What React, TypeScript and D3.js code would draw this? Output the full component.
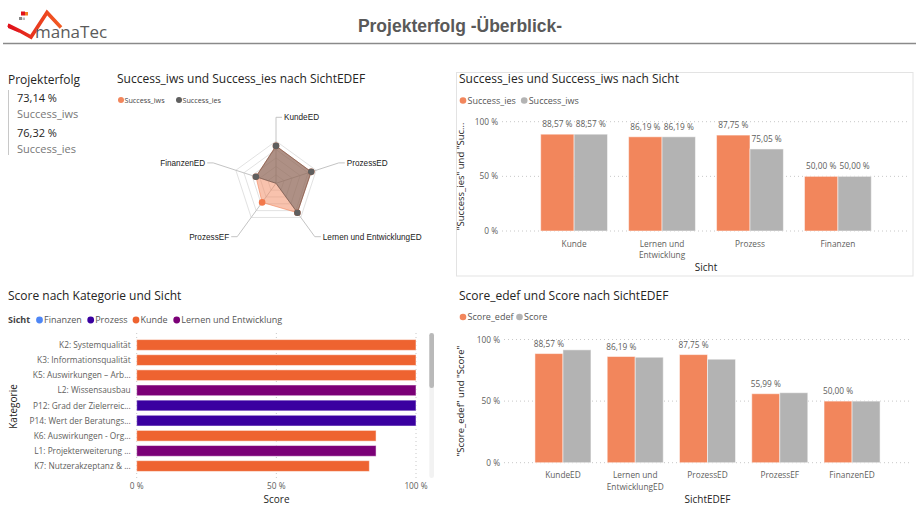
import React from 'react';
import * as d3 from 'd3';

// ---------- DATA ----------
const kpiValues = [73.14, 76.32];
const kpiLabels = ['Success_iws', 'Success_ies'];

const radarAxes = ['KundeED', 'ProzessED', 'Lernen und EntwicklungED', 'ProzessEF', 'FinanzenED'];
const radarIws = [88.57, 87.75, 86.19, 55.99, 50.0];
const radarIes = [88.57, 87.75, 86.19, 0, 50.0];

const sichtCats = ['Kunde', 'Lernen und Entwicklung', 'Prozess', 'Finanzen'];
const sichtLabelLines = [['Kunde'], ['Lernen und', 'Entwicklung'], ['Prozess'], ['Finanzen']];
const successIes = [88.57, 86.19, 87.75, 50.0];
const successIws = [88.57, 86.19, 75.05, 50.0];

const edefCats = ['KundeED', 'Lernen und EntwicklungED', 'ProzessED', 'ProzessEF', 'FinanzenED'];
const edefLabelLines = [['KundeED'], ['Lernen und', 'EntwicklungED'], ['ProzessED'], ['ProzessEF'], ['FinanzenED']];
const scoreEdef = [88.57, 86.19, 87.75, 55.99, 50.0];
const scoreVals = [91.6, 85.6, 84.0, 56.8, 50.0];

const kategorien = [
  'K2: Systemqualität',
  'K3: Informationsqualität',
  'K5: Auswirkungen – Arb...',
  'L2: Wissensausbau',
  'P12: Grad der Zielerreic...',
  'P14: Wert der Beratungs...',
  'K6: Auswirkungen - Org...',
  'L1: Projekterweiterung ...',
  'K7: Nutzerakzeptanz & ...',
];
const katSicht = ['Kunde', 'Kunde', 'Kunde', 'Lernen und Entwicklung', 'Prozess', 'Prozess', 'Kunde', 'Lernen und Entwicklung', 'Kunde'];
const katScore = [100, 100, 100, 100, 100, 100, 85.7, 85.7, 83.3];

const sichtLegend = ['Finanzen', 'Prozess', 'Kunde', 'Lernen und Entwicklung'];
const sichtColors = ['#4E86F5', '#3A00A0', '#EE6330', '#7B0077'];

const pctTicks = [0, 50, 100];

// ---------- STYLE ----------
const FONT = "'Segoe UI', 'Open Sans', sans-serif";
const ORANGE = '#F2865C';
const GRAY = '#B3B3B3';
const TITLE_C = '#252423';
const LABEL_C = '#605E5C';

const de = d3.formatLocale({ decimal: ',', thousands: '.', grouping: [3], currency: ['', ' €'] });
const f2 = de.format('.2f');
const pct2 = (v: number) => `${f2(v)} %`;
const pct0 = (v: number) => `${v} %`;

function Logo() {
  return (
    <g>
      <defs>
        <linearGradient id="lg" x1="0" x2="1" y1="0" y2="0">
          <stop offset="0" stopColor="#E0121B" />
          <stop offset="1" stopColor="#F25C22" />
        </linearGradient>
      </defs>
      <path d="M8,25 L20,31 L31,37 L47,12.5 L61,27.5" fill="none" stroke="url(#lg)" strokeWidth={3.6} strokeLinejoin="miter" strokeLinecap="butt" />
      <path d="M8,23.5 L8,28 L20,33 Z" fill="#E0121B" />
      <rect x={21} y={11.5} width={4} height={4} fill="#E0121B" />
      <rect x={25} y={12} width={3} height={3.5} fill="#F47C20" />
      <rect x={19} y={17} width={3} height={3} fill="#888" />
      <rect x={22.5} y={17.5} width={2.5} height={2.5} fill="#bbb" />
      <text x={35} y={38} fontFamily={FONT} fontSize={17} fill="#5b5b5b">manaTec</text>
    </g>
  );
}

function Kpi() {
  return (
    <g fontFamily={FONT}>
      <text x={8} y={84} fontSize={12} fill={TITLE_C}>Projekterfolg</text>
      <line x1={8.5} x2={8.5} y1={90} y2={155} stroke="#c8c8c8" strokeWidth={1} />
      {kpiValues.map((v, i) => (
        <g key={i}>
          <text x={17} y={101.5 + i * 35} fontSize={11} fill={TITLE_C}>{pct2(v)}</text>
          <text x={17} y={117.5 + i * 35} fontSize={11} fill="#777">{kpiLabels[i]}</text>
        </g>
      ))}
    </g>
  );
}

function Radar() {
  const cx = 276, cy = 183.3;
  const r = d3.scaleLinear().domain([0, 100]).range([0, 42.2]);
  const ang = (i: number) => (-90 + (360 / radarAxes.length) * i) * Math.PI / 180;
  const pt = (i: number, v: number): [number, number] => [cx + r(v) * Math.cos(ang(i)), cy + r(v) * Math.sin(ang(i))];
  const line = d3.line<[number, number]>().curve(d3.curveLinearClosed);
  const levels = [20, 40, 60, 80, 100];
  const rLine = 66, seg = 6;
  return (
    <g>
      <text x={117} y={83} fontFamily={FONT} fontSize={12} fill={TITLE_C}>Success_iws und Success_ies nach SichtEDEF</text>
      <circle cx={121} cy={100} r={3} fill={ORANGE} />
      <text x={124.5} y={102.5} fontFamily={FONT} fontSize={7.2} fill="#444">Success_iws</text>
      <circle cx={179} cy={100} r={3} fill="#5f5f5f" />
      <text x={182.5} y={102.5} fontFamily={FONT} fontSize={7.2} fill="#444">Success_ies</text>
      {levels.map((l) => (
        <path key={l} d={line(radarAxes.map((_, i) => pt(i, l))) || ''} fill="none" stroke="#e2e2e2" strokeWidth={1} />
      ))}
      {radarAxes.map((a, i) => {
        const ex = cx + rLine * Math.cos(ang(i));
        const ey = cy + rLine * Math.sin(ang(i));
        const right = Math.cos(ang(i)) >= -0.01;
        const sx = right ? ex + seg : ex - seg;
        return (
          <g key={a}>
            <polyline points={`${cx},${cy} ${ex},${ey} ${sx},${ey}`} fill="none" stroke="#c4c4c4" strokeWidth={1} />
            <text x={right ? sx + 2 : sx - 2} y={ey + 3} textAnchor={right ? 'start' : 'end'}
              fontFamily="'Liberation Sans', Arial, sans-serif" fontSize={8.2} fill="#222">{a}</text>
          </g>
        );
      })}
      <path d={line(radarIws.map((v, i) => pt(i, v))) || ''} fill={ORANGE} fillOpacity={0.5} stroke={ORANGE} strokeOpacity={0.6} />
      <path d={line(radarIes.map((v, i) => pt(i, v))) || ''} fill="#555" fillOpacity={0.45} stroke="#6a5048" strokeOpacity={0.6} />
      {radarIws.map((v, i) => {
        const [x, y] = pt(i, v);
        return <circle key={'a' + i} cx={x} cy={y} r={3.3} fill="#F2784B" />;
      })}
      {radarIes.map((v, i) => {
        if (v === 0) return null;
        const [x, y] = pt(i, v);
        return <circle key={'b' + i} cx={x} cy={y} r={3.3} fill="#5f5f5f" />;
      })}
    </g>
  );
}

function ColumnChart(props: {
  title: string; legend: string[]; cats: string[]; lines: string[][]; a: number[]; b: number[];
  labelB: boolean; xTitle: string; yTitle: string;
  top: number; y0: number; y100: number; xr: [number, number]; pIn: number; pOut: number;
}) {
  const { title, legend, cats, lines, a, b, labelB, xTitle, yTitle, top, y0, y100, xr, pIn, pOut } = props;
  const y = d3.scaleLinear().domain([0, 100]).range([y0, y100]);
  const x0 = d3.scaleBand<string>().domain(cats).range(xr).paddingInner(pIn).paddingOuter(pOut);
  const x1 = d3.scaleBand<string>().domain(['a', 'b']).range([0, x0.bandwidth()]);
  const lx = xr[0] - 7;
  return (
    <g fontFamily={FONT}>
      <text x={459} y={top} fontSize={12} fill={TITLE_C}>{title}</text>
      <circle cx={463} cy={top + 17.5} r={3.3} fill={ORANGE} />
      <text x={467.5} y={top + 20.7} fontSize={9} fill="#555">{legend[0]}</text>
      <circle cx={463 + 4.5 + legend[0].length * 4.7 + 5} cy={top + 17.5} r={3.3} fill={GRAY} />
      <text x={463 + 4.5 + legend[0].length * 4.7 + 9.5} y={top + 20.7} fontSize={9} fill="#555">{legend[1]}</text>
      {pctTicks.map((t) => (
        <g key={t}>
          <line x1={xr[0]} x2={xr[1]} y1={y(t)} y2={y(t)} stroke="#c8c8c8" strokeDasharray="1,3" />
          <text x={lx + 3} y={y(t) + 3} textAnchor="end" fontSize={8.3} fill={LABEL_C}>{pct0(t)}</text>
        </g>
      ))}
      <text transform={`translate(${464},${(y0 + y100) / 2}) rotate(-90)`} textAnchor="middle" fontSize={9.5} fill={TITLE_C}>{yTitle}</text>
      {cats.map((c, i) => {
        const gx = x0(c) || 0;
        return (
          <g key={c}>
            <rect x={gx + (x1('a') || 0)} y={y(a[i])} width={x1.bandwidth()} height={y0 - y(a[i])} fill={ORANGE} stroke="#fff" strokeOpacity={0.5} />
            <rect x={gx + (x1('b') || 0)} y={y(b[i])} width={x1.bandwidth()} height={y0 - y(b[i])} fill={GRAY} stroke="#fff" strokeOpacity={0.5} />
            <text x={gx + (x1('a') || 0) + x1.bandwidth() / 2} y={y(a[i]) - 7} textAnchor="middle" fontSize={8.3} fill={LABEL_C}>{pct2(a[i])}</text>
            {labelB && (
              <text x={gx + (x1('b') || 0) + x1.bandwidth() / 2} y={y(b[i]) - 7} textAnchor="middle" fontSize={8.3} fill={LABEL_C}>{pct2(b[i])}</text>
            )}
            {lines[i].map((ln, k) => (
              <text key={k} x={gx + x0.bandwidth() / 2} y={y0 + 15.7 + k * 11.7} textAnchor="middle" fontSize={8.3} fill={LABEL_C}>{ln}</text>
            ))}
          </g>
        );
      })}
      <text x={(xr[0] + xr[1]) / 2} y={y0 + 39.8} textAnchor="middle" fontSize={10} fill={TITLE_C}>{xTitle}</text>
    </g>
  );
}

function BarChart() {
  const x = d3.scaleLinear().domain([0, 100]).range([136.7, 416]);
  const y = d3.scaleBand<string>().domain(kategorien).range([337.4, 473.6]).paddingInner(0.29).paddingOuter(0.145);
  const color = d3.scaleOrdinal<string, string>().domain(sichtLegend).range(sichtColors);
  const legendX = [39.5, 90.7, 136, 176.7];
  return (
    <g fontFamily={FONT}>
      <text x={8} y={299.5} fontSize={12} fill={TITLE_C}>Score nach Kategorie und Sicht</text>
      <text x={8} y={323} fontSize={9} fontWeight={700} fill="#444">Sicht</text>
      {sichtLegend.map((s, i) => (
        <g key={s}>
          <circle cx={legendX[i]} cy={320} r={3.4} fill={color(s)} />
          <text x={legendX[i] + 4.5} y={323} fontSize={9} fill="#555">{s}</text>
        </g>
      ))}
      {pctTicks.map((t) => (
        <g key={t}>
          <line x1={x(t)} x2={x(t)} y1={333} y2={478} stroke="#c8c8c8" strokeDasharray="1,3" />
          <text x={x(t)} y={489} textAnchor="middle" fontSize={8.3} fill={LABEL_C}>{pct0(t)}</text>
        </g>
      ))}
      {kategorien.map((k, i) => (
        <g key={k}>
          <rect x={x(0)} y={y(k)} width={x(katScore[i]) - x(0)} height={y.bandwidth()} fill={color(katSicht[i])} stroke="#fff" strokeOpacity={0.5} />
          <text x={130.7} y={(y(k) || 0) + y.bandwidth() / 2 + 3} textAnchor="end" fontSize={8.3} fill={LABEL_C}>{k}</text>
        </g>
      ))}
      <text x={276.5} y={503} textAnchor="middle" fontSize={10} fill={TITLE_C}>Score</text>
      <text transform="translate(16.5,406.5) rotate(-90)" textAnchor="middle" fontSize={10} fill={TITLE_C}>Kategorie</text>
      <rect x={429.3} y={333} width={4.7} height={145} rx={2.3} fill="#f2f2f2" />
      <rect x={429.3} y={333} width={4.7} height={55} rx={2.3} fill="#b9b9b9" />
    </g>
  );
}

export default function App() {
  return (
    <svg width={920} height={515} style={{ position: 'absolute', left: 0, top: 0, background: '#fff' }}>
      <rect width={920} height={515} fill="#fff" />
      <Logo />
      <text x={460} y={32} textAnchor="middle" fontFamily="'Liberation Sans', Arial, sans-serif" fontWeight={700} fontSize={17.5} fill="#595959">Projekterfolg -Überblick-</text>
      <line x1={3} x2={916} y1={43.5} y2={43.5} stroke="#8a8a8a" strokeWidth={1.6} />
      <Kpi />
      <Radar />
      <rect x={456.5} y={72.5} width={456.5} height={203.5} fill="none" stroke="#e3e3e3" strokeWidth={1} />
      <ColumnChart title="Success_ies und Success_iws nach Sicht" legend={['Success_ies', 'Success_iws']}
        cats={sichtCats} lines={sichtLabelLines} a={successIes} b={successIws} labelB={true}
        xTitle="Sicht" yTitle={'"Success_ies" und "Suc...'} top={83} y0={231} y100={121.7}
        xr={[502, 910]} pIn={0.24} pOut={0.44} />
      <ColumnChart title="Score_edef und Score nach SichtEDEF" legend={['Score_edef', 'Score']}
        cats={edefCats} lines={edefLabelLines} a={scoreEdef} b={scoreVals} labelB={false}
        xTitle="SichtEDEF" yTitle={'"Score_edef" und "Score"'} top={299.5} y0={462.7} y100={339.5}
        xr={[504, 911]} pIn={0.225} pOut={0.428} />
      <BarChart />
    </svg>
  );
}
